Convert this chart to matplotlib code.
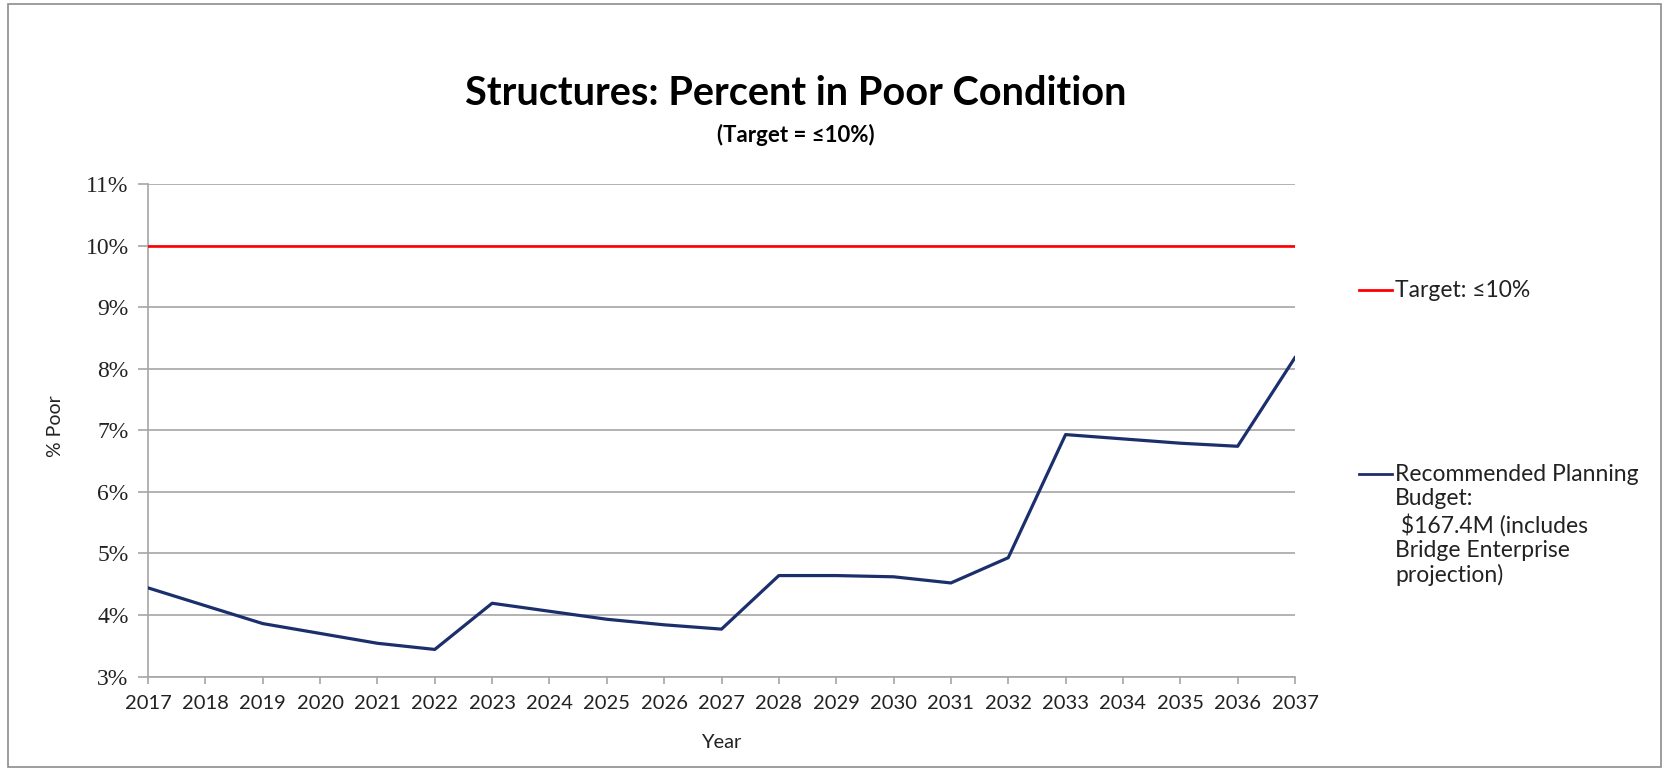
import matplotlib
matplotlib.use("Agg")
import numpy as np
from matplotlib import pyplot as plt
from matplotlib.lines import Line2D
from matplotlib.patches import Rectangle

# Structures in poor condition, recommended planning budget vs target
years = list(range(2017, 2038))
pct_poor = [4.44, 4.15, 3.86, 3.70, 3.54, 3.44, 4.19, 4.06, 3.93, 3.84, 3.77,
            4.64, 4.64, 4.62, 4.52, 4.93, 6.93, 6.86, 6.79, 6.74, 8.18]
target = [10] * len(years)
y_ticks = list(range(3, 12))

target_label = "Target: \u226410%"
budget_label = ("Recommended Planning\nBudget:\n $167.4M (includes\n"
                "Bridge Enterprise\nprojection)")

sans = ["Lato", "DejaVu Sans"]
serif = ["Liberation Serif", "DejaVu Serif"]
grid_col = "#a6a6a6"
navy = "#1b2f6c"

fig = plt.figure(figsize=(16.69, 7.70), dpi=100)
ax = fig.add_axes([0.0887, 0.1214, 0.6872, 0.6396])

ax.plot(years, target, color="#ff0000", lw=1.9, zorder=3)
ax.plot(years, pct_poor, color=navy, lw=2.3, zorder=4)

ax.set_xlim(years[0], years[-1])
ax.set_ylim(3, 11)
ax.set_xticks(years)
ax.set_xticklabels([str(y) for y in years], fontfamily=sans, fontsize=14.5)
ax.set_yticks(y_ticks)
ax.set_yticklabels([f"{v}%" for v in y_ticks], fontfamily=serif, fontsize=17)

ax.grid(axis="y", color=grid_col, lw=1.2, zorder=0)
for side in ["top", "right"]:
    ax.spines[side].set_visible(False)
for side in ["left", "bottom"]:
    ax.spines[side].set_color(grid_col)
    ax.spines[side].set_linewidth(1.2)
ax.tick_params(axis="y", length=7, width=1.2, color=grid_col, pad=7, labelcolor="#222222")
ax.tick_params(axis="x", length=5, width=1.2, color=grid_col, pad=8, labelcolor="#222222")

ax.set_ylabel("% Poor", fontfamily=sans, fontsize=14, color="#222222")
ax.yaxis.set_label_coords(-0.073, 0.508)
ax.set_xlabel("Year", fontfamily=sans, fontsize=14.5, color="#222222")
ax.xaxis.set_label_coords(0.5, -0.133)
ax.xaxis.label.set_va("center")

fig.text(0.477, 0.879, "Structures: Percent in Poor Condition", ha="center", va="center",
         fontfamily=sans, fontsize=28.5, fontweight="bold", color="black")
fig.text(0.477, 0.825, "(Target = \u226410%)", ha="center", va="center",
         fontfamily=sans, fontsize=16, fontweight="bold", color="black")

# legend keys and labels to the right of the plot
W, H = 1669, 770
for y_px, col, label in [(290, "#ff0000", target_label), (474, navy, budget_label)]:
    yf = 1 - y_px / H
    fig.add_artist(Line2D([1359 / W, 1392 / W], [yf, yf], color=col, lw=2.0,
                          transform=fig.transFigure))
    fig.text(1395 / W, yf + 10 / H, label, ha="left", va="top", fontfamily=sans,
             fontsize=16.5, color="#222222", linespacing=1.2)

# thin frame round the chart
fig.add_artist(Rectangle((8 / W, 3 / H), 1653 / W, 763 / H, transform=fig.transFigure,
                         fill=False, edgecolor="#8c8c8c", lw=1.2))

fig.savefig("out.png", dpi=100)
